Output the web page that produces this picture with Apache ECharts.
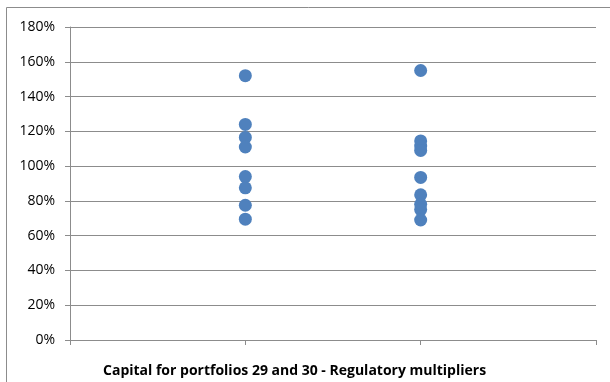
<!DOCTYPE html>
<html lang="en">
<head>
    <meta charset="UTF-8">
    <title>Capital for portfolios 29 and 30</title>
    <script src="https://cdn.jsdelivr.net/npm/echarts@6/dist/echarts.min.js"></script>
</head>
<body style="margin:0">
<div id="chart" style="height: 382px; width: 610px"></div>
<script>
    // values, in percent
    var portfolio29 = [152, 124, 116.5, 111, 94, 87.5, 77.5, 69.5];
    var portfolio30 = [155, 114.5, 111.5, 109, 93.5, 83.5, 78, 75, 69];
    var xPositions = [1, 2];
    var yTicks = [0, 20, 40, 60, 80, 100, 120, 140, 160, 180];
    var title = 'Capital for portfolios 29 and 30 - Regulatory multipliers';

    var points = [];
    portfolio29.forEach(function (v) { points.push([xPositions[0], v]); });
    portfolio30.forEach(function (v) { points.push([xPositions[1], v]); });

    var myChart = echarts.init(document.getElementById('chart'));
    var option = {
        animation: false,
        textStyle: { fontFamily: 'Open Sans' },
        graphic: [{
            type: 'rect',
            shape: { x: 6.5, y: 7.5, width: 620, height: 400 },
            style: { fill: null, stroke: '#8c8c8c', lineWidth: 1 }
        }, {
            type: 'text',
            left: 103,
            top: 364,
            style: {
                text: title,
                font: 'bold 14px "Open Sans"',
                fill: '#000'
            }
        }],
        grid: { left: 70, right: 14, top: 27, bottom: 42 },
        xAxis: {
            type: 'value',
            min: 0,
            max: 3,
            interval: 1,
            axisLine: { lineStyle: { color: '#8c8c8c' } },
            axisTick: { show: true, length: 5, lineStyle: { color: '#8c8c8c' } },
            axisLabel: { show: false },
            splitLine: { show: false }
        },
        yAxis: {
            type: 'value',
            min: yTicks[0],
            max: yTicks[yTicks.length - 1],
            interval: 20,
            axisLine: { show: true, lineStyle: { color: '#8c8c8c' } },
            axisTick: { show: true, length: 5, lineStyle: { color: '#8c8c8c' } },
            axisLabel: {
                formatter: '{value}%',
                color: '#000',
                fontSize: 14,
                margin: 15
            },
            splitLine: { lineStyle: { color: '#8c8c8c' } }
        },
        series: [{
            type: 'scatter',
            symbolSize: 13,
            itemStyle: { color: '#4f81bd', opacity: 1 },
            data: points
        }]
    };
    myChart.setOption(option);
</script>
</body>
</html>
